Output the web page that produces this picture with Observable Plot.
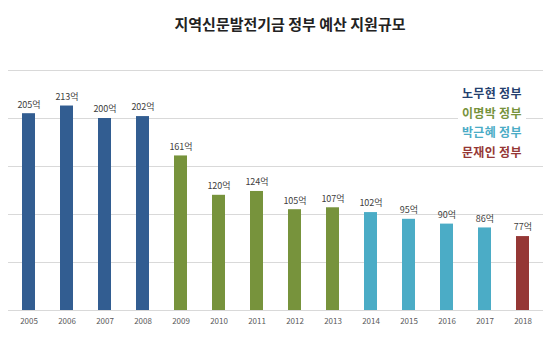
<!DOCTYPE html>
<html>
<head>
<meta charset="utf-8">
<script src="https://cdn.jsdelivr.net/npm/d3@7"></script>
<script src="https://cdn.jsdelivr.net/npm/@observablehq/plot@0.6"></script>
<style>
  body { margin: 0; background: #fff; font-family: "Noto Sans CJK KR", "Noto Sans", sans-serif; }
  #wrap { position: relative; width: 560px; height: 337px; }
  #title { height: 45px; line-height: 48px; text-align: center; padding-left: 20px; box-sizing: border-box;
           font-size: 15px; font-weight: bold; color: #222; }
  #legend { position: absolute; left: 458px; top: 83px; background: #fff; padding: 0 4px;
            font-size: 12px; font-weight: bold; line-height: 19.6px; letter-spacing: 0.3px; }
</style>
</head>
<body>
<div id="wrap">
  <div id="title">지역신문발전기금 정부 예산 지원규모</div>
  <div id="chart"></div>
  <div id="legend"></div>
</div>
<script>
const years = ["2005","2006","2007","2008","2009","2010","2011","2012","2013","2014","2015","2016","2017","2018"];
const values = [205, 213, 200, 202, 161, 120, 124, 105, 107, 102, 95, 90, 86, 77];
const govs = ["노무현 정부","노무현 정부","노무현 정부","노무현 정부",
              "이명박 정부","이명박 정부","이명박 정부","이명박 정부","이명박 정부",
              "박근혜 정부","박근혜 정부","박근혜 정부","박근혜 정부",
              "문재인 정부"];
const govNames = ["노무현 정부","이명박 정부","박근혜 정부","문재인 정부"];
const barColors = ["#325d91","#77933c","#4bacc6","#953735"];
const legendColors = ["#24406e","#77933c","#4bacc6","#953735"];
const gridTicks = [0, 50, 100, 150, 200, 250];
const unit = "억";

const data = years.map((y, i) => ({year: y, value: values[i], gov: govs[i]}));

const chart = Plot.plot({
  width: 560,
  height: 292,
  marginLeft: 8,
  marginRight: 17,
  marginTop: 25,
  marginBottom: 27,
  style: {fontFamily: '"Noto Sans CJK KR", "Noto Sans", sans-serif', background: "#fff"},
  x: {domain: years, paddingInner: 0.67, paddingOuter: 0.335, label: null},
  y: {domain: [0, 250], axis: null},
  color: {domain: govNames, range: barColors},
  marks: [
    Plot.ruleY(gridTicks, {stroke: "#d9d9d9", strokeWidth: 1}),
    Plot.barY(data, {x: "year", y: "value", fill: "gov"}),
    Plot.text(data, {x: "year", y: "value", text: d => d.value + unit, dy: -9, fontSize: 9, fill: "#404040"}),
    Plot.axisX({tickSize: 0, tickPadding: 8, fontSize: 8, color: "#595959", label: null})
  ]
});
document.getElementById("chart").appendChild(chart);

const legend = document.getElementById("legend");
govNames.forEach((g, i) => {
  const d = document.createElement("div");
  d.textContent = g;
  d.style.color = legendColors[i];
  legend.appendChild(d);
});
</script>
</body>
</html>
